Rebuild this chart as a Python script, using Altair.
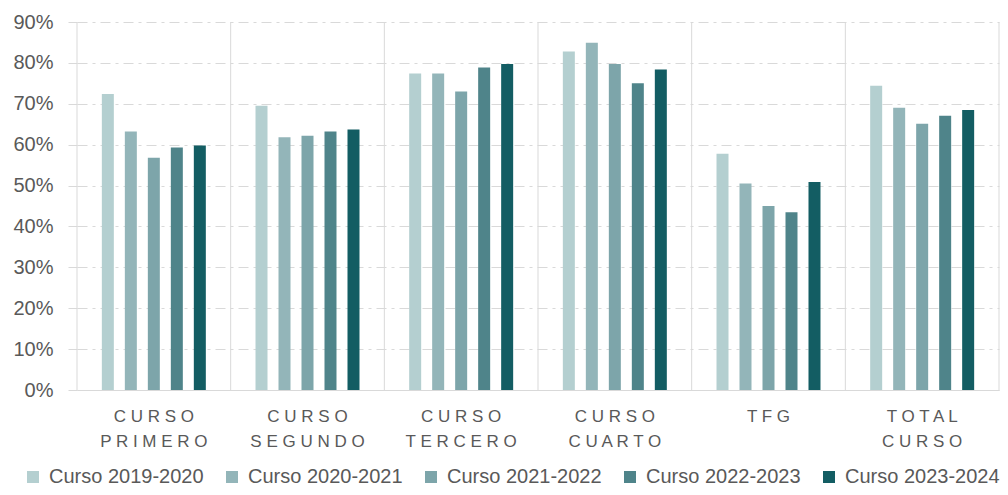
import json
import altair as alt
import pandas as pd

CATEGORIES = ["CURSO PRIMERO", "CURSO SEGUNDO", "CURSO TERCERO",
              "CURSO CUARTO", "TFG", "TOTAL CURSO"]
SERIES = ["Curso 2019-2020", "Curso 2020-2021", "Curso 2021-2022",
          "Curso 2022-2023", "Curso 2023-2024"]
COLORS = ["#B4CFD0", "#93B5B9", "#7DA5AA", "#4F848A", "#135D63"]

V_2019_2020 = [0.724, 0.695, 0.774, 0.828, 0.578, 0.744]
V_2020_2021 = [0.632, 0.618, 0.774, 0.849, 0.505, 0.690]
V_2021_2022 = [0.568, 0.622, 0.730, 0.797, 0.450, 0.651]
V_2022_2023 = [0.593, 0.632, 0.789, 0.750, 0.435, 0.671]
V_2023_2024 = [0.598, 0.637, 0.797, 0.784, 0.509, 0.685]

VALUES = [V_2019_2020, V_2020_2021, V_2021_2022, V_2022_2023, V_2023_2024]

rows = []
for s, vals in zip(SERIES, VALUES):
    for c, v in zip(CATEGORIES, vals):
        rows.append({"cat": c, "serie": s, "valor": v})
df = pd.DataFrame(rows)
cats_df = pd.DataFrame({"cat": CATEGORIES})

# spaced, two-line labels
label_map = {c: [" ".join(w) for w in c.split(" ")] for c in CATEGORIES}
label_expr = json.dumps(label_map) + "[datum.label]"

GRID = "#d9d9d9"
TXT = "#595959"

x_enc = alt.X("cat:N", sort=CATEGORIES, title=None,
              scale=alt.Scale(paddingInner=0, paddingOuter=0),
              axis=alt.Axis(labelExpr=label_expr, labelAngle=0, ticks=False,
                            domainColor=GRID, labelColor=TXT, labelFontSize=17,
                            labelLineHeight=25, labelPadding=18,
                            labelAlign="center", labelBaseline="top",
                            labelLimit=0, grid=False))

bars = alt.Chart(df).mark_bar(width=12).encode(
    x=x_enc,
    xOffset=alt.XOffset("serie:N", sort=SERIES,
                        scale=alt.Scale(paddingInner=0, paddingOuter=0.841)),
    y=alt.Y("valor:Q", title=None,
            scale=alt.Scale(domain=[0, 0.9]),
            axis=alt.Axis(format=".0%", values=[i / 10 for i in range(10)],
                          labelColor=TXT, labelFontSize=20, labelPadding=15,
                          tickColor=GRID, tickSize=9, domain=False,
                          gridColor=GRID, gridDash=[10, 5, 3, 5], grid=True)),
    color=alt.Color("serie:N", sort=SERIES,
                    scale=alt.Scale(domain=SERIES, range=COLORS),
                    legend=alt.Legend(title=None, orient="none",
                                      direction="horizontal", columns=5,
                                      symbolType="square", symbolSize=144,
                                      symbolStrokeWidth=0,
                                      labelFontSize=20, labelColor=TXT,
                                      labelLimit=300,
                                      labelOffset=6, columnPadding=18,
                                      legendX=-54, legendY=445)),
)

sep_start = alt.Chart(cats_df).mark_rule(color=GRID, strokeWidth=1).encode(
    x=alt.X("cat:N", sort=CATEGORIES, bandPosition=0)
)
sep_end = alt.Chart(cats_df).transform_filter(
    alt.datum.cat == CATEGORIES[-1]
).mark_rule(color=GRID, strokeWidth=1).encode(
    x=alt.X("cat:N", sort=CATEGORIES, bandPosition=1)
)

chart = alt.layer(sep_start, sep_end, bars).properties(
    width=922, height=368,
    padding={"left": 4, "top": 4, "right": 0, "bottom": 0},
).configure(
    font="Liberation Sans"
).configure_view(stroke=None)

chart.save("out.html", embed_options={"renderer": "svg", "actions": False})
